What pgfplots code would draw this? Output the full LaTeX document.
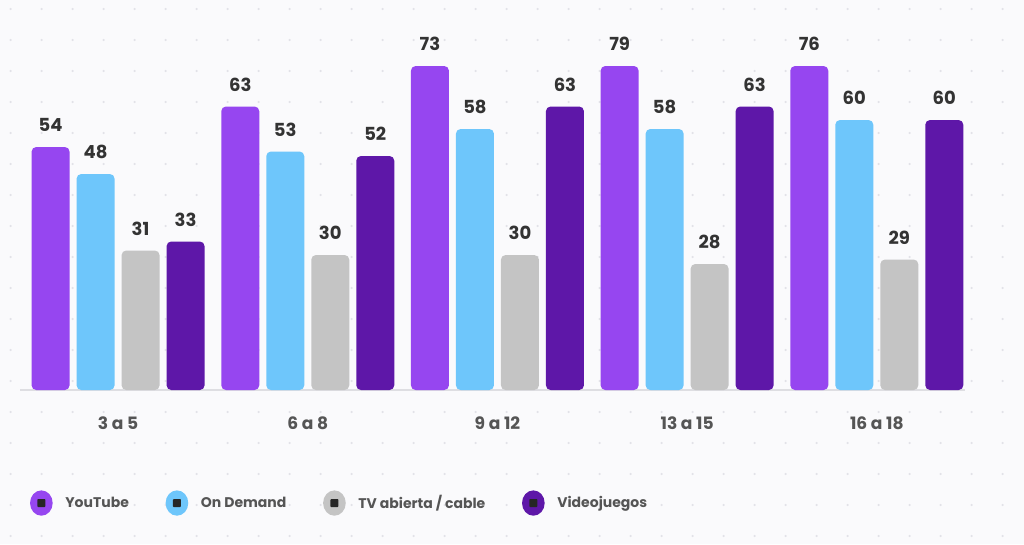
\documentclass[border=0pt]{standalone}
\usepackage{pgfplots}
\pgfplotsset{compat=1.18}
\usepackage{pgfplotstable}
\usepackage{fontspec}
\setmainfont{Poppins}
\definecolor{bg}{HTML}{FAFAFC}
\definecolor{dotc}{HTML}{E2E2E8}
\definecolor{ytc}{HTML}{9646F0}
\definecolor{odc}{HTML}{6EC6FB}
\definecolor{tvc}{HTML}{C4C4C4}
\definecolor{vjc}{HTML}{5E17A8}
\definecolor{axisc}{HTML}{DEDEE2}
\definecolor{tickc}{HTML}{555555}
\definecolor{valc}{HTML}{333333}
\definecolor{legc}{HTML}{555555}

\pgfplotstableread{
x yt od tv vj
0 54 48 31 33
1 63 53 30 52
2 73 58 30 63
3 79 58 28 63
4 76 60 29 60
}\data

\begin{document}
\begin{tikzpicture}
\useasboundingbox (0,0) rectangle (768pt,408pt);
\fill[bg] (0,0) rectangle (768pt,408pt);
\foreach \i in {0,...,33} {\foreach \j in {0,...,17} {\fill[dotc] (\i*23.25pt+8pt, \j*23.25pt+6pt) circle (0.9pt);}}
\begin{axis}[
  at={(15pt,115.5pt)}, anchor=south west, scale only axis,
  width=708.75pt, height=270pt,
  xmin=-0.517, xmax=4.465, ymin=0, ymax=80,
  ybar=5.25pt, bar width=28.5pt,
  axis x line*=bottom, axis y line=none,
  x axis line style={draw=axisc, line width=1.5pt, -},
  xtick={0,1,2,3,4},
  xticklabels={3 a 5, 6 a 8, 9 a 12, 13 a 15, 16 a 18},
  major tick length=0pt,
  xticklabel style={anchor=center, yshift=-25pt, font=\bfseries\fontsize{12.8}{14}\selectfont, text=tickc},
  /pgf/number format/assume math mode=true,
  y filter/.expression={min(y,72)},
  nodes near coords={\pgfmathprintnumber{\pgfplotspointmeta}},
  point meta=rawy,
  nodes near coords style={anchor=center, yshift=16.5pt, font=\bfseries\fontsize{13.5}{15}\selectfont, text=valc},
  clip=false,
  legend columns=-1,
  legend image code/.code={%
    \fill[#1,draw=none] (0pt,0pt) ellipse[x radius=8.5pt, y radius=9.5pt];
    \fill[black!85,rounded corners=0.6pt] (-3pt,-3pt) rectangle (3pt,3pt);
  },
  legend style={at={(0.0106,-0.314)}, anchor=west, draw=none, fill=none,
    inner sep=0pt, outer sep=0pt,
    font=\bfseries\fontsize{10.5}{12}\selectfont, text=legc,
    /tikz/every odd column/.append style={column sep=9.5pt},
    /tikz/every even column/.append style={column sep=27.5pt},
    nodes={inner sep=0pt}},
]
\addplot[fill=ytc, draw=none, rounded corners=3.5pt] table[x=x,y=yt]{\data};
\addplot[fill=odc, draw=none, rounded corners=3.5pt] table[x=x,y=od]{\data};
\addplot[fill=tvc, draw=none, rounded corners=3.5pt] table[x=x,y=tv]{\data};
\addplot[fill=vjc, draw=none, rounded corners=3.5pt] table[x=x,y=vj]{\data};
\legend{YouTube, On Demand, TV abierta / cable, Videojuegos}
\end{axis}
\end{tikzpicture}
\end{document}
